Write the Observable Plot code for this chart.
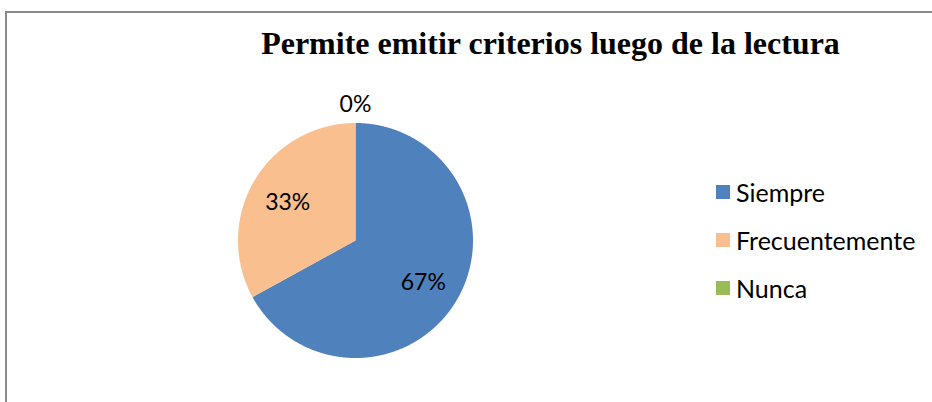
<!DOCTYPE html>
<html>
<head>
<meta charset="utf-8">
<script src="https://cdn.jsdelivr.net/npm/d3@7"></script>
<script src="https://cdn.jsdelivr.net/npm/@observablehq/plot@0.6"></script>
<style>
  html, body { margin: 0; padding: 0; background: #fff; }
  #wrap { position: relative; width: 932px; height: 402px; overflow: hidden; }
  #border { position: absolute; left: 5px; top: 11px; width: 960px; height: 420px; border: 2px solid #8a8a8a; box-sizing: border-box; }
  #chart { position: absolute; left: 0; top: 0; }
  #legend { position: absolute; left: 716px; top: 168px; }
  #legend div { margin: 0 !important; font-family: Lato, "Open Sans", sans-serif !important; font-size: 25px !important; color: #000 !important; }
  #legend [class$="-swatch"] { height: 48px !important; padding: 0 !important; display: flex !important; align-items: center !important; }
  #legend [class$="-swatch"] svg { margin-right: 6px !important; }
</style>
</head>
<body>
<div id="wrap">
  <div id="border"></div>
  <div id="chart"></div>
  <div id="legend"></div>
</div>
<script>
const categories = ["Siempre", "Frecuentemente", "Nunca"];
const percentages = [67, 33, 0];
const colors = ["#4F81BD", "#F9BF8F", "#9BBB59"];
const title = "Permite emitir criterios luego de la lectura";

const arcs = d3.pie().sort(null).value(d => d)(percentages);

// slice outlines (unit circle coordinates) built from the pie angles
const slicePoints = [];
arcs.forEach((a, i) => {
  if (a.endAngle - a.startAngle <= 0) return;
  const cat = categories[i];
  slicePoints.push({cat, x: 0, y: 0});
  const n = Math.max(2, Math.ceil((a.endAngle - a.startAngle) / 0.005));
  for (let k = 0; k <= n; k++) {
    const t = a.startAngle + (a.endAngle - a.startAngle) * k / n;
    slicePoints.push({cat, x: Math.sin(t), y: Math.cos(t)});
  }
  slicePoints.push({cat, x: 0, y: 0});
});

const labels = arcs.map((a, i) => {
  const mid = (a.startAngle + a.endAngle) / 2;
  const r = percentages[i] > 0 ? 0.67 : 1.17;
  return {cat: categories[i], text: percentages[i] + "%", x: Math.sin(mid) * r, y: Math.cos(mid) * r};
});

const cx = 355, cy = 240, R = 117.5;

const plot = Plot.plot({
  width: 932,
  height: 402,
  margin: 0,
  x: {domain: [-1, 1], range: [cx - R, cx + R], axis: null},
  y: {domain: [-1, 1], range: [cy + R, cy - R], axis: null},
  color: {domain: categories, range: colors},
  style: {background: "transparent", overflow: "visible"},
  marks: [
    Plot.line(slicePoints, {x: "x", y: "y", z: "cat", fill: "cat", stroke: null, curve: "linear"}),
    Plot.text(labels, {x: "x", y: "y", text: "text", dy: 2, fontSize: 23, fontFamily: "Lato, 'Open Sans', sans-serif", fill: "#000"}),
    Plot.text([title], {text: d => d, frameAnchor: "top", lineAnchor: "middle", dx: 84, dy: 43, fontSize: 32, fontWeight: "bold", fontFamily: "'Liberation Serif', 'Times New Roman', serif", fill: "#000"})
  ]
});
document.getElementById("chart").appendChild(plot);

const legend = Plot.legend({
  color: {type: "ordinal", domain: categories, range: colors},
  legend: "swatches",
  columns: 1,
  swatchSize: 14
});
document.getElementById("legend").appendChild(legend);
</script>
</body>
</html>
